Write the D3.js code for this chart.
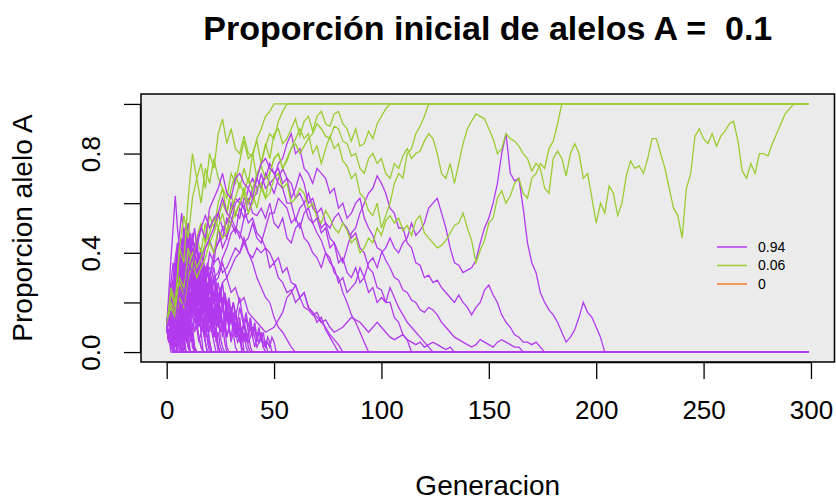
<!DOCTYPE html>
<html>
<head>
<meta charset="utf-8">
<script src="https://cdn.jsdelivr.net/npm/d3@7"></script>
<style>
body { margin: 0; background: #fff; }
svg { display: block; font-family: "Liberation Sans", Arial, sans-serif; }
</style>
</head>
<body>
<div id="chart"></div>
<script>
const title = "Proporción inicial de alelos A =  0.1";
const xLabel = "Generacion";
const yLabel = "Proporcion alelo A";
const xTicks = [0, 50, 100, 150, 200, 250, 300];
const yTicks = [0, 0.2, 0.4, 0.6, 0.8, 1.0];
const yTickLabels = ["0.0", "", "0.4", "", "0.8", ""];
const lastGen = 299;

const legendLabels = ["0.94", "0.06", "0"];
const legendColors = ["#b23aee", "#9acd32", "#f07f2a"];

// long replicates: one value every 2 generations, starting at generation 0
const longStep = 2;

// replicates that got fixed (A = 1)
const greenLong = [
  [.1,.26,.2,.42,.36,.62,.8,.7,.76,.66,.8,.74,.88,.94,.84,.9,.82,.8,.87,.8,.79,.86,.9,.95,.97,1],
  [.1,.24,.18,.42,.55,.46,.62,.7,.6,.74,.68,.78,.7,.66,.62,.72,.68,.77,.85,.78,.8,.7,.76,.83,.88,.86,.93,.97,1],
  [.1,.18,.14,.28,.22,.42,.34,.46,.52,.44,.55,.5,.6,.66,.56,.66,.72,.66,.74,.68,.8,.85,.76,.84,.78,.88,.9,.84,.86,.9,
   .94,.87,.93,.95,.89,.95,.97,.92,.91,.96,.97,.92,.9,.85,.9,.83,.84,.89,.86,.92,.95,.98,1],
  [.1,.2,.16,.3,.26,.36,.32,.46,.4,.52,.44,.48,.54,.6,.56,.64,.55,.6,.66,.6,.64,.58,.66,.62,.72,.78,.8,.74,.78,.82,
   .86,.9,.86,.88,.8,.83,.76,.82,.87,.82,.84,.77,.75,.7,.72,.64,.62,.57,.55,.6,.5,.55,.6,.68,.72,.7,.8,.82,.88,.91,.95,1],
  [.1,.16,.12,.22,.18,.3,.36,.3,.34,.38,.44,.4,.5,.46,.48,.52,.56,.6,.64,.56,.6,.66,.68,.62,.64,.7,.72,.66,.68,.6,
   .62,.66,.64,.58,.6,.54,.52,.57,.54,.5,.48,.52,.49,.44,.46,.4,.42,.46,.44,.5,.47,.53,.55,.52,.54,.49,.51,.47,.53,.55,
   .48,.46,.44,.42,.43,.45,.48,.51,.52,.56,.5,.45,.36,.41,.45,.52,.54,.62,.65,.6,.63,.68,.7,.64,.62,.7,.72,.76,.74,.82,.85,.92,1],
  [.1,.18,.14,.26,.22,.34,.4,.34,.38,.44,.48,.54,.5,.56,.48,.58,.62,.68,.64,.7,.65,.72,.75,.7,.72,.78,.8,.74,.77,.82,
   .84,.8,.83,.86,.88,.92,.9,.87,.86,.91,.9,.85,.84,.79,.8,.74,.72,.78,.8,.76,.78,.72,.7,.76,.74,.79,.82,.78,.8,.81,
   .85,.88,.86,.8,.72,.7,.76,.68,.76,.84,.9,.93,.96,.95,.94,.9,.86,.8,.82,.88,.86,.85,.83,.8,.78,.73,.76,.74,.66,.64,
   .78,.81,.78,.71,.8,.84,.8,.7,.72,.62,.52,.6,.56,.67,.64,.55,.6,.71,.77,.74,.75,.72,.78,.86,.86,.8,.74,.66,.58,.55,
   .46,.66,.72,.87,.9,.86,.84,.88,.83,.87,.89,.92,.93,.85,.73,.7,.76,.72,.8,.8,.79,.84,.88,.92,.96,.98,1]
];

// long-lived replicates that were lost (A = 0)
const purpleLong = [
  [.1,.16,.12,.22,.18,.3,.24,.22,.32,.28,.4,.36,.5,.42,.46,.52,.48,.58,.54,.62,.56,
   .55,.58,.54,.6,.52,.5,.54,.46,.44,.5,.52,.46,.44,.4,.38,.34,.4,.36,.34,.28,.3,.24,.26,.28,.34,.3,.36,.38,.34,.4,
   .42,.46,.42,.4,.44,.46,.52,.47,.49,.52,.58,.6,.62,.56,.5,.42,.36,.35,.32,.33,.34,.37,.44,.5,.54,.6,.68,.8,.88,.72,
   .69,.7,.58,.44,.36,.32,.24,.2,.17,.15,.12,.08,.04,.06,.09,.14,.2,.16,.14,.1,.06,0],
  [.1,.14,.1,.2,.16,.28,.34,.28,.26,.34,.3,.4,.44,.5,.46,.6,.56,.54,.62,.6,.66,
   .7,.66,.72,.68,.64,.7,.74,.7,.68,.62,.64,.6,.64,.58,.56,.5,.52,.46,.44,.4,.36,.42,.48,.5,.56,.6,.64,.66,.71,.68,
   .64,.58,.56,.5,.5,.44,.42,.36,.35,.3,.31,.28,.29,.26,.24,.22,.2,.23,.2,.18,.15,.18,.2,.25,.27,.23,.2,.15,.12,.1,.07,.06,.04,.04,.03,.04,.02,0],
  [.1,.14,.1,.18,.14,.2,.15,.22,.25,.32,.34,.3,.32,.38,.42,.48,.5,.46,.54,.56,.62,.64,.72,.66,.68,.7,.76,.78,.84,.88,
   .8,.82,.74,.72,.68,.74,.72,.7,.64,.66,.58,.6,.54,.56,.6,.62,.54,.5,.47,.42,.41,.37,.34,.3,.29,.25,.24,.21,.2,.17,
   .16,.18,.17,.15,.12,.1,.08,.06,.05,.04,.03,.02,.03,.05,.04,.03,.02,.04,.05,.04,.03,.02,.02,0],
  [.1,.15,.12,.2,.16,.25,.3,.36,.32,.42,.45,.4,.44,.46,.54,.52,.6,.62,.58,.66,.7,.66,.68,.7,.76,.72,.74,.68,.7,.62,
   .66,.72,.68,.6,.62,.56,.58,.52,.5,.54,.56,.52,.5,.46,.48,.42,.4,.34,.32,.26,.25,.2,.2,.14,.12,.07,.05,0],
  [.1,.18,.14,.26,.2,.35,.3,.34,.38,.42,.46,.5,.56,.5,.52,.56,.62,.6,.58,.52,.54,.48,.46,.42,.4,.36,.38,.32,.34,.28,.27,.22,.24,.18,.16,.12,.14,.09,.06,.03,0],
  [.1,.06,.1,.08,.15,.12,.2,.18,.25,.3,.24,.28,.3,.36,.3,.34,.38,.4,.44,.46,.52,.46,.44,.5,.56,.56,.62,.6,.58,.52,
   .54,.5,.56,.58,.52,.54,.48,.5,.42,.44,.36,.38,.32,.3,.34,.28,.3,.24,.26,.2,.22,.2,.26,.22,.18,.15,.12,.1,.08,.06,.04,.02,0],
  [.1,.14,.1,.16,.2,.15,.18,.22,.26,.22,.3,.36,.38,.32,.34,.38,.42,.4,.46,.4,.38,.42,.4,.42,.34,.36,.3,.28,.24,.25,
   .2,.22,.18,.17,.15,.16,.12,.13,.1,.08,.09,.1,.12,.14,.13,.12,.1,.08,.1,.12,.1,.08,.06,.05,.06,.07,.05,.04,.03,.04,.02,.03,.04,.03,.02,.01,.02,0],
  [.1,.06,.04,.1,.08,.16,.2,.15,.17,.22,.25,.2,.22,.28,.3,.24,.26,.2,.22,.16,.14,.12,.1,.08,.09,.1,.13,.16,.22,.24,.27,.22,.24,.18,.16,.14,.12,.1,.07,.05,.03,0],
  [.1,.16,.12,.26,.22,.36,.32,.45,.5,.55,.5,.54,.56,.62,.56,.54,.5,.48,.44,.4,.36,.3,.26,.22,.2,.14,.1,.08,.05,.02,0],
  [.1,.16,.12,.24,.2,.32,.38,.42,.5,.46,.58,.62,.66,.72,.64,.62,.7,.72,.68,.66,.62,.7,.76,.78,.74,.72,.68,.66,.6,.6,.53,.58,.6,.54,.52,.48,.45,.4,.38,.32,.3,.24,.2,.15,.12,.08,.04,0]
];

// short-lived lost replicates, one value per generation from generation 0
const purpleShort = [
  [.1,.06,.02,0],
  [.1,.14,.08,.04,0],
  [.1,.12,.06,.1,.04,0],
  [.1,.04,.08,.02,0],
  [.1,.16,.1,.14,.2,.12,.06,.1,.04,0],
  [.1,.06,0],
  [.1,.14,.2,.14,.22,.16,.1,.14,.06,.1,.02,0],
  [.1,.08,.14,.06,.1,.04,.08,.02,0],
  [.1,.16,.1,.18,.24,.16,.22,.14,.2,.12,.16,.08,.04,0],
  [.1,.04,.1,.06,.02,.06,0],
  [.1,.18,.26,.18,.24,.16,.22,.14,.2,.12,.06,.1,.04,0],
  [.1,.14,.08,.02,0],
  [.1,.24,.38,.5,.63,.5,.42,.3,.36,.26,.3,.2,.14,.2,.1,.06,.02,0],
  [.1,.18,.1,.2,.12,.18,.08,.14,.06,.12,.04,0],
  [.1,.06,.14,.08,.04,.12,.18,.1,.16,.08,.12,.04,.08,.02,0],
  [.1,.16,.24,.16,.28,.2,.3,.22,.34,.24,.3,.2,.26,.16,.22,.12,.16,.08,.04,0],
  [.1,.04,.1,.16,.08,.02,.06,0],
  [.1,.16,.1,.2,.14,.22,.3,.2,.26,.18,.28,.2,.14,.22,.16,.1,.16,.08,.12,.04,0],
  [.1,.16,.2,.12,.06,0],
  [.1,.2,.14,.26,.34,.42,.34,.46,.38,.3,.36,.26,.32,.22,.28,.18,.12,.18,.1,.06,.02,0],
  [.1,.06,.02,.08,.04,.1,.16,.08,.14,.06,.02,0],
  [.1,.14,.06,.12,.2,.12,.18,.1,.16,.08,.14,.06,.1,.02,0],
  [.1,.18,.24,.16,.28,.36,.26,.34,.42,.32,.4,.3,.36,.26,.32,.22,.28,.18,.24,.14,.2,.1,.06,.1,.02,0],
  [.1,.04,.08,0],
  [.1,.12,.2,.12,.18,.26,.16,.22,.12,.18,.08,.12,.04,0],
  [.1,.14,.06,.12,.04,.08,0],
  [.1,.2,.12,.24,.3,.2,.32,.24,.36,.44,.32,.4,.3,.36,.28,.22,.3,.2,.26,.16,.22,.12,.18,.1,.14,.06,.02,0],
  [.1,.06,.12,.18,.1,.16,.08,.2,.26,.16,.24,.14,.2,.28,.2,.26,.16,.22,.12,.18,.08,.14,.06,.1,.02,0],
  [.1,.14,.06,.1,.04,0],
  [.1,.18,.26,.18,.3,.38,.28,.4,.5,.4,.46,.36,.42,.32,.38,.28,.34,.24,.3,.2,.26,.16,.22,.12,.18,.08,.12,.04,0],
  [.1,.04,.12,.18,.1,.06,.12,.04,.08,0],
  [.1,.16,.1,.2,.26,.18,.3,.22,.28,.2,.3,.36,.26,.32,.24,.3,.2,.26,.16,.22,.14,.2,.12,.18,.1,.14,.06,.1,.02,0],
  [.1,.14,.2,.12,.18,.08,.04,0],
  [.1,.2,.28,.36,.28,.4,.48,.56,.46,.52,.42,.48,.38,.44,.34,.28,.34,.24,.3,.2,.14,.2,.1,.06,0],
  [.1,.06,.12,.16,.1,.18,.12,.22,.14,.2,.26,.18,.24,.3,.22,.28,.2,.26,.18,.24,.16,.22,.14,.2,.12,.18,.1,.14,.06,.1,.04,.08,.02,0],
  [.1,.16,.08,.14,.06,.12,.18,.1,.04,0],
  [.1,.2,.28,.2,.3,.38,.44,.36,.46,.38,.3,.36,.44,.5,.42,.36,.42,.34,.28,.22,.3,.24,.2,.28,.22,.16,.22,.14,.2,.12,.18,.1,.16,.08,.12,.04,.08,.02,0],
  [.1,.04,.08,.14,.08,.12,.04,0],
  [.1,.14,.2,.12,.18,.24,.16,.22,.28,.18,.24,.3,.22,.26,.18,.12,.2,.14,.08,.12,.04,0],
  [.1,.16,.22,.16,.26,.32,.4,.32,.26,.34,.4,.32,.38,.3,.36,.26,.2,.28,.22,.26,.32,.24,.3,.22,.16,.24,.18,.22,.14,.2,.12,.16,.08,.12,.04,.08,0],
  [.1,.16,.08,0],
  [.1,.06,.14,.2,.12,.18,.24,.16,.1,.16,.06,.1,.02,0],
  [.1,.14,.22,.28,.2,.32,.24,.3,.22,.28,.18,.24,.16,.2,.12,.18,.08,.12,.04,0],
  [.1,.12,.06,.12,.04,.1,.16,.08,.12,.04,.08,0],
  [.1,.2,.14,.24,.32,.4,.3,.42,.34,.46,.52,.42,.48,.4,.46,.36,.42,.34,.28,.34,.26,.3,.22,.28,.2,.26,.18,.14,.2,.12,.16,.08,.12,.06,.1,.02,0],
  [.1,.04,.1,.04,0],
  [.1,.16,.2,.28,.2,.26,.18,.3,.36,.28,.38,.44,.34,.3,.38,.3,.34,.26,.32,.24,.18,.26,.2,.24,.16,.22,.28,.2,.16,.12,.18,.1,.16,.08,.14,.06,.12,.04,.08,.02,0],
  [.1,.14,.06,.12,.18,.1,.04,.1,.02,0],
  [.1,.18,.24,.3,.38,.44,.36,.3,.4,.46,.38,.42,.32,.36,.28,.32,.22,.28,.18,.12,.18,.08,.04,0],
  [.1,.06,.14,.2,.14,.1,.18,.24,.3,.2,.26,.18,.24,.14,.1,.16,.08,.14,.06,.1,.04,0],
  [.1,.12,.06,.02,.06,0],
  [.1,.08,.04,.1,.06,.12,.06,.02,0],
  [.1,.14,.08,.12,.16,.1,.14,.08,.04,0],
  [.1,.06,.1,.14,.1,.16,.1,.06,.12,.06,.02,0],
  [.1,.12,.16,.1,.06,.1,.04,0],
  [.1,.14,.2,.14,.1,.16,.22,.14,.2,.12,.18,.1,.16,.08,.12,.06,.02,0],
  [.1,.16,.22,.18,.26,.2,.28,.22,.3,.24,.2,.28,.22,.26,.18,.22,.16,.2,.14,.1,.14,.08,.12,.04,.08,.02,0],
  [.1,.08,.12,.18,.12,.16,.1,.18,.24,.16,.2,.12,.08,.14,.1,.04,.08,0],
  [.1,.12,.16,.2,.26,.18,.24,.32,.26,.34,.28,.22,.3,.24,.2,.26,.2,.16,.24,.18,.22,.14,.1,.16,.12,.18,.12,.08,.14,.1,.06,.12,.08,.04,.06,0],
  [.1,.18,.12,.2,.14,.08,.12,.06,0],
  [.1,.14,.08,.16,.12,.2,.14,.22,.18,.26,.2,.16,.24,.2,.28,.22,.18,.26,.3,.24,.2,.26,.22,.16,.2,.14,.18,.12,.16,.1,.14,.2,.16,.12,.18,.14,.1,.14,.08,.12,.06,.1,.04,.08,.06,.02,.04,0],
  [.1,.06,.12,.08,.14,.1,.16,.2,.14,.18,.12,.16,.1,.14,.18,.22,.16,.2,.14,.1,.14,.08,.12,.16,.1,.14,.08,.12,.06,.1,.14,.1,.06,.1,.04,.08,.12,.08,.04,.06,.1,.06,.02,.04,.06,.02,0],
  [.1,.16,.22,.28,.22,.3,.36,.3,.38,.32,.4,.34,.3,.36,.42,.36,.3,.34,.28,.32,.26,.3,.34,.28,.22,.26,.2,.24,.18,.22,.16,.2,.14,.18,.22,.16,.12,.16,.1,.14,.08,.12,.06,.1,.04,.08,.02,.06,.04,0],
  [.1,.12,.18,.14,.2,.26,.2,.24,.3,.26,.22,.28,.24,.3,.36,.3,.26,.32,.28,.22,.26,.2,.24,.2,.16,.22,.18,.12,.16,.1,.14,.08,.12,.08,.04,.08,.12,.08,.06,.1,.06,.02,.06,.04,.08,.04,.02,.04,.02,.06,.04,0],
  [.1,.08,.14,.1,.16,.22,.16,.2,.26,.32,.26,.3,.24,.28,.34,.4,.34,.38,.32,.36,.3,.26,.3,.24,.28,.22,.18,.24,.2,.14,.18,.12,.16,.1,.06,.1,.04,.08,.02,0]
];

const W = 836, H = 500;
const plotL = 141, plotR = 834.5, plotT = 94, plotB = 362;

const x = d3.scaleLinear().domain([-11.96, 310.96]).range([plotL, plotR]);
const y = d3.scaleLinear().domain([-0.04, 1.04]).range([plotB, plotT]);

const svg = d3.select("#chart").append("svg")
    .attr("width", W)
    .attr("height", H);

svg.append("rect")
    .attr("x", plotL).attr("y", plotT)
    .attr("width", plotR - plotL).attr("height", plotB - plotT)
    .attr("fill", "#ebebeb");

const line = d3.line().x(d => x(d[0])).y(d => y(d[1]));

// once absorbed (0 or 1) the proportion stays there until the last generation
function toPoints(vals, step) {
    const pts = vals.map((v, i) => [i * step, v]);
    pts.push([lastGen, vals[vals.length - 1]]);
    return pts;
}

const series = [];
purpleShort.forEach(vals => series.push({pts: toPoints(vals, 1), col: legendColors[0]}));
purpleLong.forEach((vals, i) => {
    series.push({pts: toPoints(vals, longStep), col: legendColors[0]});
    if (greenLong[i]) series.push({pts: toPoints(greenLong[i], longStep), col: legendColors[1]});
});

svg.append("g")
    .selectAll("path")
    .data(series)
    .join("path")
    .attr("d", d => line(d.pts))
    .attr("fill", "none")
    .attr("stroke", d => d.col)
    .attr("stroke-width", 1.3);

svg.append("rect")
    .attr("x", plotL).attr("y", plotT)
    .attr("width", plotR - plotL).attr("height", plotB - plotT)
    .attr("fill", "none")
    .attr("stroke", "#000")
    .attr("stroke-width", 1.5);

// x axis
const xAxis = d3.axisBottom(x).tickValues(xTicks).tickSize(17).tickPadding(22);
svg.append("g")
    .attr("transform", `translate(0,${plotB})`)
    .call(xAxis)
    .call(g => g.select(".domain").attr("d", `M${x(0)},0.5H${x(300)}`).attr("stroke-width", 1.3))
    .call(g => g.selectAll(".tick line").attr("stroke-width", 1.3))
    .call(g => g.selectAll("text").attr("font-size", 26).attr("fill", "#000")
        .attr("font-family", "Liberation Sans, Arial, sans-serif"));

// y axis
const yAxis = d3.axisLeft(y).tickValues(yTicks).tickSize(17).tickFormat((d, i) => yTickLabels[i]);
svg.append("g")
    .attr("transform", `translate(${plotL},0)`)
    .call(yAxis)
    .call(g => g.select(".domain").attr("d", `M-0.5,${y(0)}V${y(1)}`).attr("stroke-width", 1.3))
    .call(g => g.selectAll(".tick line").attr("stroke-width", 1.3))
    .call(g => g.selectAll("text")
        .attr("font-size", 26).attr("fill", "#000")
        .attr("font-family", "Liberation Sans, Arial, sans-serif")
        .attr("x", null).attr("dy", null)
        .attr("text-anchor", "middle")
        .attr("transform", "translate(-50,0) rotate(-90)")
        .attr("dominant-baseline", "central"));

svg.append("text")
    .attr("x", (plotL + plotR) / 2).attr("y", 40)
    .attr("text-anchor", "middle")
    .attr("font-size", 34).attr("font-weight", "bold")
    .style("white-space", "pre")
    .text(title);

svg.append("text")
    .attr("x", (plotL + plotR) / 2).attr("y", 495)
    .attr("text-anchor", "middle")
    .attr("font-size", 28)
    .text(xLabel);

svg.append("text")
    .attr("transform", `translate(32,${(plotT + plotB) / 2}) rotate(-90)`)
    .attr("text-anchor", "middle")
    .attr("font-size", 28)
    .text(yLabel);

// legend, no box
const legend = svg.append("g").attr("transform", "translate(717,247)");
legendLabels.forEach((lab, i) => {
    const row = legend.append("g").attr("transform", `translate(0,${i * 18.5})`);
    row.append("line").attr("x1", 0).attr("x2", 30).attr("y1", 0).attr("y2", 0)
        .attr("stroke", legendColors[i]).attr("stroke-width", 1.5);
    row.append("text").attr("x", 41).attr("y", 0).attr("dy", "0.35em")
        .attr("font-size", 14).text(lab);
});
</script>
</body>
</html>
